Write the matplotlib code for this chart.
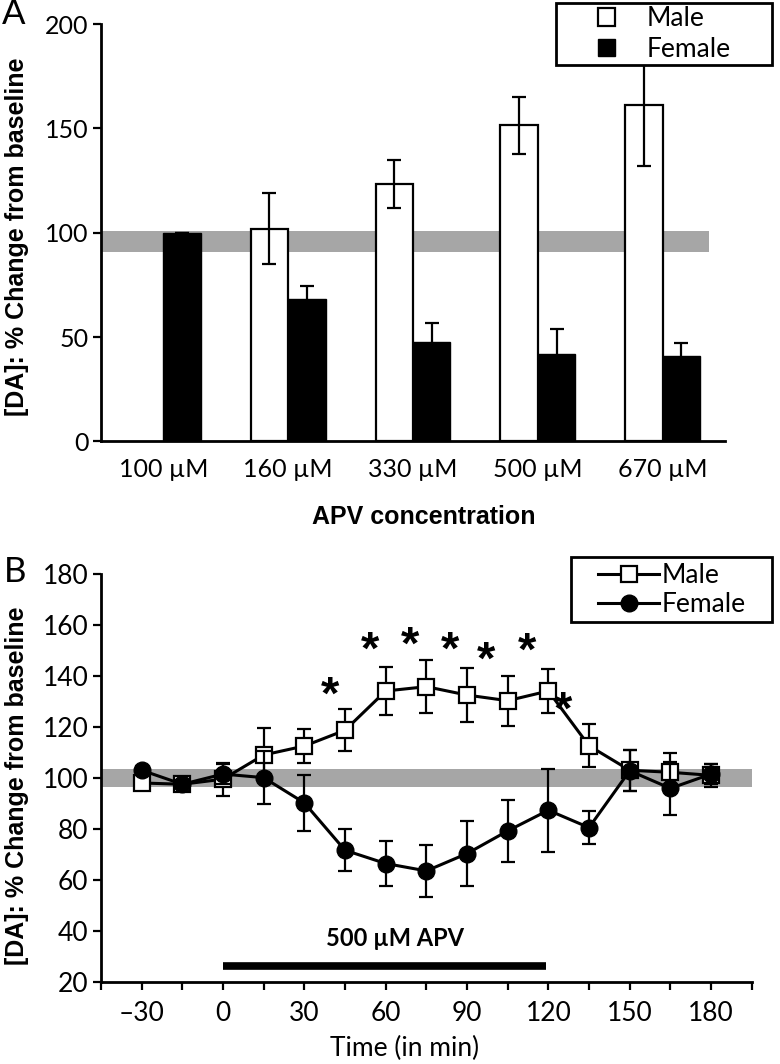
"""Two-panel figure: DA change vs APV concentration (A) and time course (B)."""

import numpy as np
import matplotlib
matplotlib.use("Agg")
import matplotlib.pyplot as plt
from matplotlib.patches import Patch, Rectangle
from matplotlib.lines import Line2D

plt.rcParams["font.family"] = ["Lato", "DejaVu Sans"]

# ---- panel A data ----
concentrations = ["100 µM", "160 µM", "330 µM", "500 µM", "670 µM"]
male_mean_a = [np.nan, 102.0, 123.5, 151.5, 161.3]
male_err_a = [np.nan, 17.0, 11.5, 13.7, 29.5]
female_mean_a = [100.0, 68.3, 47.6, 42.0, 41.0]
female_err_a = [0.0, 6.0, 9.0, 12.0, 6.0]
band_a = (90.8, 100.6)

# ---- panel B data ----
time_min = [-30, -15, 0, 15, 30, 45, 60, 75, 90, 105, 120, 135, 150, 165, 180]
male_mean_b = [98.0, 97.5, 99.5, 109.0, 112.5, 118.7, 134.1, 135.8, 132.5,
               130.3, 134.1, 112.6, 103.0, 102.2, 101.0]
male_err_b = [1.5, 1.5, 6.5, 10.7, 6.6, 8.2, 9.5, 10.3, 10.6, 9.8, 8.5, 8.5,
              8.0, 7.5, 4.5]
female_mean_b = [103.0, 97.5, 101.5, 100.1, 90.2, 71.6, 66.4, 63.5, 70.3,
                 79.2, 87.3, 80.5, 102.8, 95.9, 101.5]
female_err_b = [1.5, 1.5, 4.0, 10.3, 11.0, 8.3, 9.0, 10.2, 12.8, 12.3, 16.2,
                6.4, 8.0, 10.3, 4.0]
band_b = (96.5, 103.4)
star_x = [39.6, 54.4, 68.9, 83.6, 97.2, 112.2, 125.5]
star_y = [133.8, 151.7, 153.4, 151.7, 147.5, 151.1, 127.9]
apv_start, apv_end, apv_level = 0, 119, 26

SANS_BOLD = ["Liberation Sans", "DejaVu Sans"]
W, H = 780, 1064


def fig_box(fig, x0, y0, x1, y1):
    """White legend frame given in pixel coordinates from the top-left."""
    rect = Rectangle((x0 / W, 1 - y1 / H), (x1 - x0) / W, (y1 - y0) / H,
                     transform=fig.transFigure, facecolor="white",
                     edgecolor="black", linewidth=2, zorder=5)
    fig.patches.append(rect)


fig = plt.figure(figsize=(W / 100, H / 100), dpi=100)

# ================= panel A =================
ax = fig.add_axes([0.1295, 0.5852, 0.80, 0.3922])
x = np.arange(len(concentrations))
width = 0.30
ax.axhspan(*band_a, xmin=0, xmax=0.975, color="#a6a6a6", lw=0, zorder=0)
ax.bar(x - width / 2, male_mean_a, width, color="white", edgecolor="black",
       linewidth=1.6, zorder=2)
ax.bar(x + width / 2, female_mean_a, width, color="black", edgecolor="black",
       linewidth=1.0, zorder=2)
ax.errorbar(x - width / 2, male_mean_a, yerr=male_err_a, fmt="none",
            ecolor="black", elinewidth=1.6, capsize=5, capthick=1.6, zorder=3)
ax.errorbar(x + width / 2, female_mean_a, yerr=female_err_a, fmt="none",
            ecolor="black", elinewidth=1.6, capsize=5, capthick=1.6, zorder=3)

ax.set_xlim(-0.5, 4.5)
ax.set_ylim(0, 200)
ax.set_yticks([0, 50, 100, 150, 200])
ax.set_xticks(x)
ax.set_xticklabels(concentrations)
ax.tick_params(axis="x", length=0, labelsize=18, pad=12)
ax.tick_params(axis="y", direction="out", length=6, width=1.6, labelsize=18, pad=3)
for side in ("top", "right"):
    ax.spines[side].set_visible(False)
for side in ("left", "bottom"):
    ax.spines[side].set_linewidth(2)
ax.set_ylabel("[DA]: % Change from baseline", family=SANS_BOLD,
              fontweight="bold", fontsize=18)
ax.yaxis.set_label_coords(-0.115, 0.49)
ax.set_xlabel("APV concentration", family=SANS_BOLD, fontweight="bold", fontsize=18)
ax.xaxis.set_label_coords(0.518, -0.153)

fig_box(fig, 556, 3, 772, 65)
handles_a = [Patch(facecolor="white", edgecolor="black", linewidth=1.6, label="Male"),
             Patch(facecolor="black", edgecolor="black", label="Female")]
leg = fig.legend(handles=handles_a, loc="center",
                 bbox_to_anchor=(664 / W, 1 - 34 / H), fontsize=19,
                 frameon=False, handlelength=0.65, handleheight=0.65,
                 handletextpad=1.2, borderpad=0, labelspacing=0.2)
leg.set_zorder(6)
fig.text(2 / W, 1 - 14 / H, "A", fontsize=25, va="center", ha="left")

# ================= panel B =================
bx = fig.add_axes([0.1295, 0.0773, 0.8342, 0.3832])
bx.axhspan(*band_b, color="#a6a6a6", lw=0, zorder=0)
bx.errorbar(time_min, male_mean_b, yerr=male_err_b, color="black", lw=2.2,
            marker="s", markersize=12, markerfacecolor="white",
            markeredgecolor="black", markeredgewidth=1.6, ecolor="black",
            elinewidth=1.6, capsize=5, capthick=1.6, zorder=3)
bx.errorbar(time_min, female_mean_b, yerr=female_err_b, color="black", lw=2.2,
            marker="o", markersize=12, markerfacecolor="black",
            markeredgecolor="black", ecolor="black", elinewidth=1.6,
            capsize=5, capthick=1.6, zorder=4)
bx.plot([apv_start, apv_end], [apv_level, apv_level], color="black", lw=5.5,
        solid_capstyle="butt", zorder=3)
bx.text((apv_start + apv_end) / 2 + 4, 37, "500 µM APV", fontsize=17,
        fontweight="bold", ha="center", va="center")
for sx, sy in zip(star_x, star_y):
    bx.text(sx, sy - 2, "*", family=SANS_BOLD, fontweight="bold", fontsize=34,
            ha="center", va="center")

bx.set_xlim(-45, 195)
bx.set_ylim(20, 180)
xt = np.arange(-45, 196, 15)
bx.set_xticks(xt)
bx.set_xticklabels([("–" + str(-v) if v < 0 else str(v)) if v % 30 == 0 else ""
                    for v in xt])
bx.set_yticks(np.arange(20, 181, 20))
bx.tick_params(axis="x", direction="out", length=6, width=1.6, labelsize=19, pad=8)
bx.tick_params(axis="y", direction="out", length=6, width=1.6, labelsize=19, pad=3)
for side in ("top", "right"):
    bx.spines[side].set_visible(False)
for side in ("left", "bottom"):
    bx.spines[side].set_linewidth(2)
bx.set_ylabel("[DA]: % Change from baseline", family=SANS_BOLD,
              fontweight="bold", fontsize=18)
bx.yaxis.set_label_coords(-0.111, 0.48)
bx.set_xlabel("Time (in min)", fontsize=19)
bx.xaxis.set_label_coords(0.466, -0.133)

fig_box(fig, 571, 557, 772, 622)
handles_b = [Line2D([], [], color="black", lw=2.2, marker="s", markersize=12,
                    markerfacecolor="white", markeredgewidth=1.6, label="Male"),
             Line2D([], [], color="black", lw=2.2, marker="o", markersize=12,
                    markerfacecolor="black", label="Female")]
leg_b = fig.legend(handles=handles_b, loc="center",
                   bbox_to_anchor=(672 / W, 1 - 590 / H), fontsize=19,
                   frameon=False, handlelength=2.3, handletextpad=0.1,
                   borderpad=0, labelspacing=0.15)
leg_b.set_zorder(6)
fig.text(4 / W, 1 - 572 / H, "B", fontsize=25, va="center", ha="left")

fig.savefig("out.png", dpi=100)
